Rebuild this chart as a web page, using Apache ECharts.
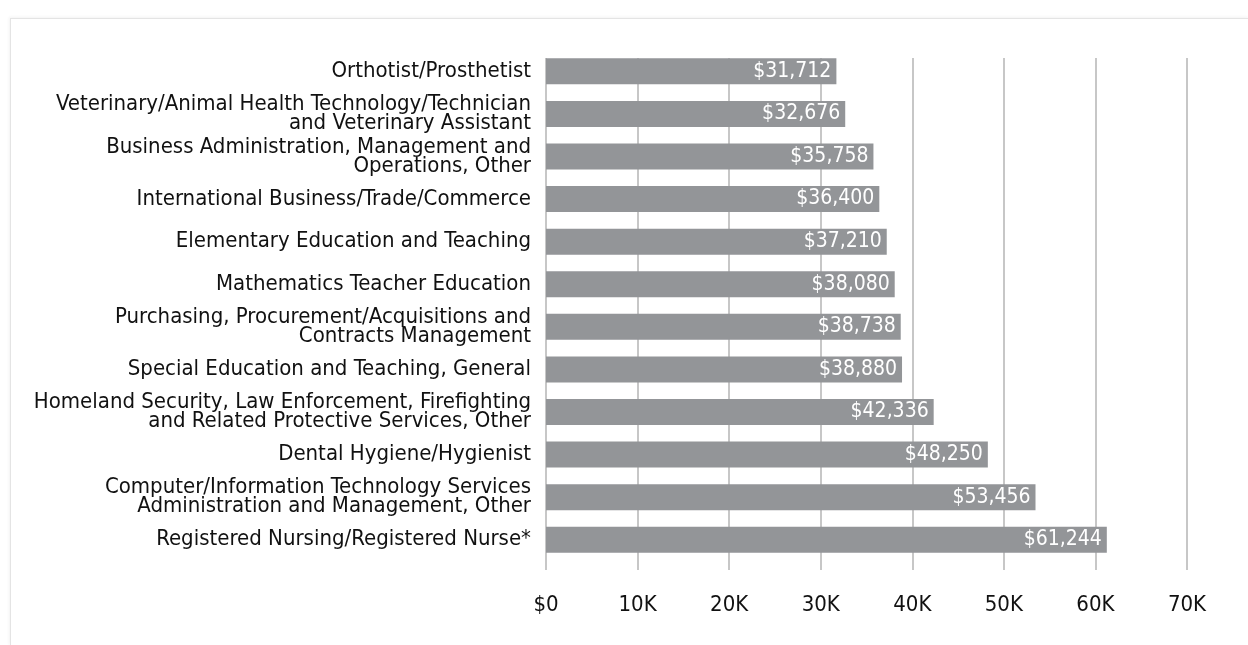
<!DOCTYPE html>
<html>
<head>
<meta charset="utf-8">
<script src="https://cdn.jsdelivr.net/npm/echarts@6/dist/echarts.min.js"></script>
<style>
    html, body { margin: 0; padding: 0; background: #fff; }
    #frame {
        position: absolute;
        left: 10px; top: 18px;
        width: 1238px; height: 627px;
        border-top: 1px solid #e4e4e4;
        border-left: 1px solid #e4e4e4;
        box-shadow: -1px -1px 3px rgba(0,0,0,0.05);
    }
    #chart { position: absolute; left: 0; top: 0; width: 1248px; height: 645px; }
</style>
</head>
<body>
<div id="frame"></div>
<div id="chart"></div>
<script>
// program names (top to bottom)
const categories = [
    'Orthotist/Prosthetist',
    'Veterinary/Animal Health Technology/Technician\nand Veterinary Assistant',
    'Business Administration, Management and\nOperations, Other',
    'International Business/Trade/Commerce',
    'Elementary Education and Teaching',
    'Mathematics Teacher Education',
    'Purchasing, Procurement/Acquisitions and\nContracts Management',
    'Special Education and Teaching, General',
    'Homeland Security, Law Enforcement, Firefighting\nand Related Protective Services, Other',
    'Dental Hygiene/Hygienist',
    'Computer/Information Technology Services\nAdministration and Management, Other',
    'Registered Nursing/Registered Nurse*'
];

const salaries = [31712, 32676, 35758, 36400, 37210, 38080, 38738, 38880, 42336, 48250, 53456, 61244];

const tickLabels = ['$0', '10K', '20K', '30K', '40K', '50K', '60K', '70K'];

const FONT = 'DejaVu Sans Condensed';

function initSalaryChart() {
    const chartDom = document.getElementById('chart');
    const myChart = echarts.init(chartDom);

    const option = {
        animation: false,
        // grid 0: bars + names, grid 1: vertical guide lines + tick labels
        grid: [
            { left: 546, right: 61, top: 50, bottom: 84 },
            { left: 546, right: 61, top: 58, bottom: 75 }
        ],
        xAxis: [
            {
                gridIndex: 0,
                type: 'value',
                min: 0,
                max: 70000,
                interval: 10000,
                axisLine: { show: false },
                axisTick: { show: false },
                splitLine: { show: false },
                axisLabel: { show: false }
            },
            {
                gridIndex: 1,
                type: 'value',
                min: 0,
                max: 70000,
                interval: 10000,
                axisLine: { show: false },
                axisTick: { show: false },
                splitLine: {
                    show: true,
                    lineStyle: { color: '#b5b5b5', width: 1.5 }
                },
                axisLabel: {
                    margin: 24,
                    fontFamily: FONT,
                    fontSize: 22,
                    color: '#111',
                    formatter: function (val) {
                        return tickLabels[Math.round(val / 10000)];
                    }
                }
            }
        ],
        yAxis: [
            {
                gridIndex: 0,
                type: 'category',
                inverse: true,
                data: categories,
                axisLine: { show: false },
                axisTick: { show: false },
                axisLabel: {
                    margin: 15,
                    fontFamily: FONT,
                    fontSize: 22,
                    lineHeight: 19,
                    color: '#111',
                    align: 'right'
                }
            },
            {
                gridIndex: 1,
                type: 'value',
                min: 0,
                max: 1,
                show: false
            }
        ],
        series: [
            {
                type: 'bar',
                xAxisIndex: 0,
                yAxisIndex: 0,
                z: 3,
                data: salaries,
                barWidth: 26,
                itemStyle: { color: '#939598' },
                label: {
                    show: true,
                    position: 'insideRight',
                    distance: 5,
                    fontFamily: FONT,
                    fontSize: 21,
                    color: '#fff',
                    formatter: function (p) {
                        return '$' + p.value.toLocaleString('en-US');
                    }
                }
            }
        ]
    };

    myChart.setOption(option);
    return myChart;
}

initSalaryChart();
</script>
</body>
</html>
